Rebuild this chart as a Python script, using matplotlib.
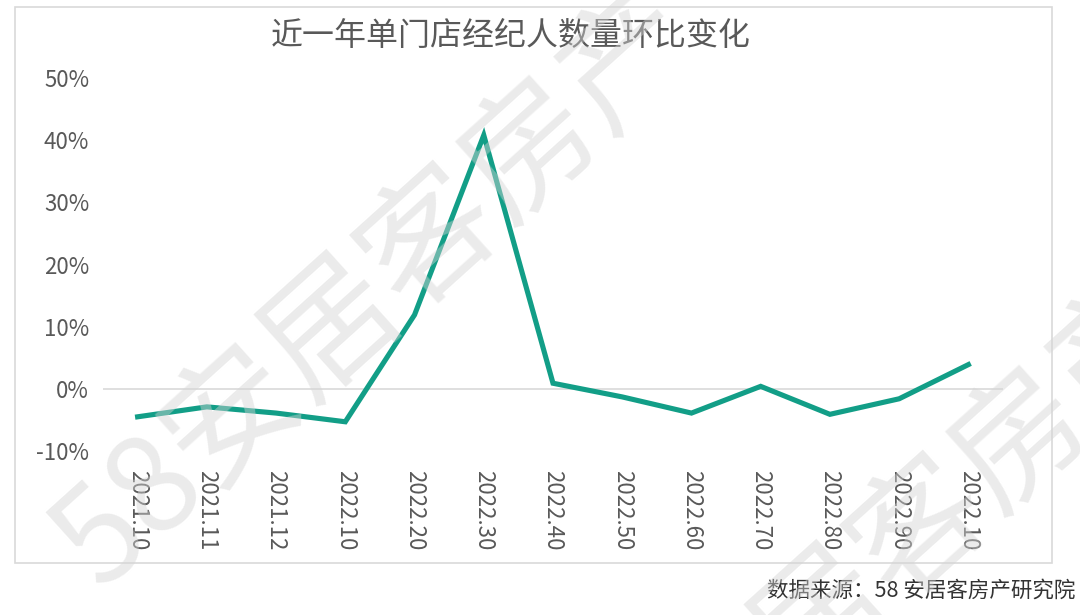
import matplotlib
matplotlib.use("Agg")
import matplotlib.pyplot as plt
from matplotlib.patches import Rectangle
from matplotlib.ticker import FuncFormatter

plt.rcParams['font.family'] = ['Noto Sans CJK SC', 'DejaVu Sans']

# months (labels as printed on the chart) and month-on-month change, %
months = ['2021.10', '2021.11', '2021.12', '2022.10', '2022.20', '2022.30', '2022.40',
          '2022.50', '2022.60', '2022.70', '2022.80', '2022.90', '2022.10']
change = [-4.5, -2.9, -3.9, -5.3, 11.9, 40.8, 0.9, -1.3, -3.9, 0.4, -4.1, -1.6, 3.9]
y_ticks = [-10, 0, 10, 20, 30, 40, 50]

title = '近一年单门店经纪人数量环比变化'
source = '数据来源：58 安居客房产研究院'
watermark = '58安居客房产'

text_col = '#595959'
line_col = '#129e87'

fig = plt.figure(figsize=(10.8, 6.15), dpi=100)
fig.patch.set_facecolor('white')

# outer chart border
fig.patches.append(Rectangle((15 / 1080, 1 - 563 / 615), 1037 / 1080, 556 / 615,
                             transform=fig.transFigure, fill=False,
                             edgecolor='#d9d9d9', linewidth=1.2))

ax = fig.add_axes([103 / 1080, 1 - 451 / 615, 900 / 1080, 373 / 615])
x = list(range(len(months)))
ax.plot(x, change, color=line_col, linewidth=3.7, solid_joinstyle='miter', zorder=3)
ax.axhline(0, color='#d9d9d9', linewidth=1.2, zorder=1)

ax.set_xlim(-0.5, len(months) - 0.5)
ax.set_ylim(-10, 50)
ax.set_yticks(y_ticks)
ax.yaxis.set_major_formatter(FuncFormatter(lambda v, p: '%d%%' % v))
ax.set_xticks(x)
ax.set_xticklabels(months, rotation=-90)
ax.tick_params(axis='both', length=0, labelsize=16, colors=text_col)
ax.tick_params(axis='x', pad=14)
ax.tick_params(axis='y', pad=10)
for s in ax.spines.values():
    s.set_visible(False)
ax.patch.set_alpha(0)

fig.text(511 / 1080, 1 - 36 / 615, title, ha='center', va='center',
         fontsize=23, color=text_col)
fig.text(1075 / 1080, 1 - 591 / 615, source, ha='right', va='center',
         fontsize=15.5, color='#333333')

# diagonal watermarks
fig.text(100 / 1080, 1 - 590 / 615, watermark, rotation=42, rotation_mode='anchor',
         ha='left', va='baseline', fontsize=96, color='#d4d4d4', alpha=0.45,
         zorder=10)
fig.text(590 / 1080, 1 - 880 / 615, watermark, rotation=42, rotation_mode='anchor',
         ha='left', va='baseline', fontsize=96, color='#d4d4d4', alpha=0.45,
         zorder=10)

fig.savefig('out.png', dpi=100)
